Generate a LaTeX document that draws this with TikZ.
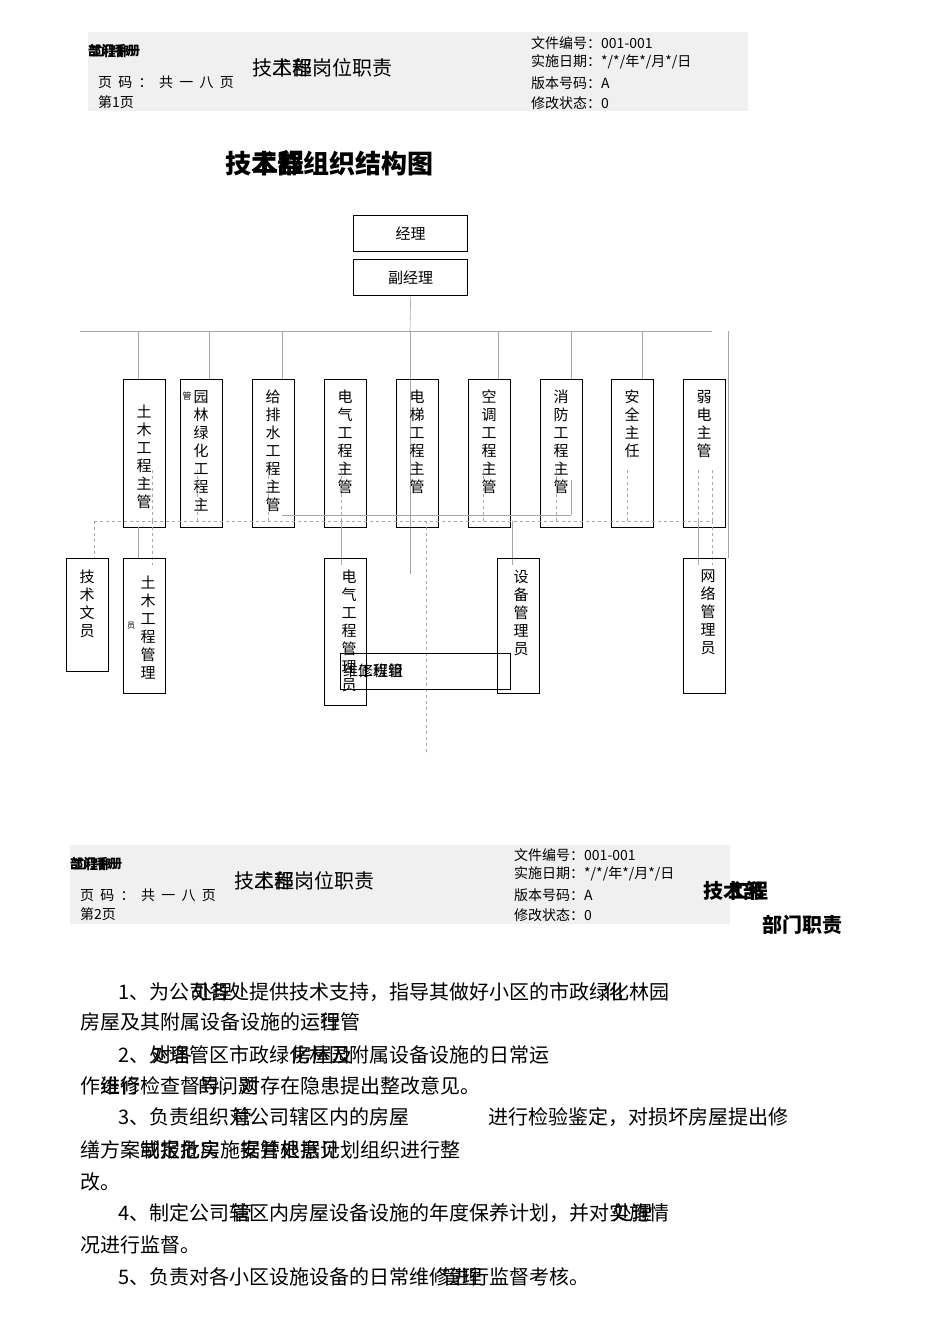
\documentclass[tikz,border=0pt]{standalone}
\usepackage{fontspec}
\setmainfont{Noto Sans CJK SC}
\begin{document}
\begin{tikzpicture}[x=1pt,y=-1pt,
  bx/.style={draw,line width=1.3pt,minimum width=42pt,anchor=north west,inner sep=0pt},
  ln/.style={draw=black!35,line width=0.6pt},
  dl/.style={draw=black!35,line width=0.5pt,dashed},
  vt/.style={anchor=north,inner sep=0pt,align=center,font=\fontsize{15pt}{18pt}\selectfont},
  ht/.style={anchor=west,inner sep=0pt},
  hd/.style={anchor=west,inner sep=0pt,font=\fontsize{14pt}{16pt}\selectfont},
  bt/.style={anchor=west,inner sep=0pt,font=\fontsize{20pt}{22pt}\selectfont}]
\useasboundingbox (0,0) rectangle (950,1344);
% header 1
\fill[black!6] (88,32) rectangle (748,111);
\node[hd,font=\fontsize{13pt}{14pt}\selectfont\bfseries] (h1a) at (88,51) {部门手册};
\node[hd,font=\fontsize{13pt}{14pt}\selectfont\bfseries] (h1b) at (90,51) {工程部};
\node[hd,font=\fontsize{20pt}{22pt}\selectfont] (h1c) at (252,68) {技术部岗位职责};
\node[hd,font=\fontsize{20pt}{22pt}\selectfont] (h1d) at (272,68) {工程};
\node[hd] (h1e) at (98,82) {页\ \ 码\ \ ：\ \ 共\ \ 一\ \ 八\ \ 页};
\node[hd] (h1f) at (98,102) {第1页};
\node[hd] (h1g) at (531,43) {文件编号：001-001};
\node[hd] (h1h) at (531,62) {实施日期：*/*/年*/月*/日};
\node[hd] (h1i) at (531,83) {版本号码：A};
\node[hd] (h1j) at (531,103) {修改状态：0};
% title
\node[ht,font=\fontsize{26pt}{28pt}\selectfont\bfseries] (t1) at (225,163) {技术部组织结构图};
\node[ht,font=\fontsize{26pt}{28pt}\selectfont\bfseries] (t2) at (252,163) {工程};
% top boxes
\node[bx,minimum width=114pt,minimum height=36pt] (jl) at (353,215) {};
\node at (jl.center) {\fontsize{15pt}{16pt}\selectfont 经理};
\node[bx,minimum width=114pt,minimum height=36pt] (fjl) at (353,259) {};
\node at (fjl.center) {\fontsize{15pt}{16pt}\selectfont 副经理};
\coordinate (bus) at (410,331);
\draw[ln] (fjl.south) -- (bus);
\draw[ln] (80,331) -- (712,331);
\draw[ln] (bus) -- (410,574);
% second level
\foreach \n/\x/\t/\ty in {
 a/123/土\\木\\工\\程\\主\\管/405,
 b/180/园\\林\\绿\\化\\工\\程\\主/390,
 c/252/给\\排\\水\\工\\程\\主\\管/390,
 d/324/电\\气\\工\\程\\主\\管/390,
 e/396/电\\梯\\工\\程\\主\\管/390,
 f/468/空\\调\\工\\程\\主\\管/390,
 g/540/消\\防\\工\\程\\主\\管/390,
 h/611/安\\全\\主\\任/390,
 i/683/弱\\电\\主\\管/390}{
  \node[bx,minimum height=148pt] (\n) at (\x,379) {};
  \node[vt] (\n t) at (\x+21,\ty) {\t};
}
\node[vt,font=\fontsize{9pt}{9pt}\selectfont] (bsm) at (187,392) {管};
\foreach \x in {138,209,282,498,571,642,728}{\draw[ln] (\x,331) -- (\x,379);}
\draw[ln] (282,515) -- (571,515);
\draw[ln] (571,515) -- (571,480);
\draw[dl] (94,521) -- (712,521);
\draw[dl] (94,521) -- (94,558);
\foreach \x in {152,197,268,341,483,556,627,698,712}{\draw[dl] (\x,470) -- (\x,521);}
\draw[dl] (426,521) -- (426,755);
\draw[ln] (138,527) -- (138,558);
\draw[dl] (152,521) -- (152,565);
\draw[ln] (341,521) -- (341,565);
\draw[ln] (512,521) -- (512,565);
\draw[ln] (698,521) -- (698,565);
\draw[dl] (712,521) -- (712,565);
\draw[ln] (728,379) -- (728,558);
% third level
\node[bx,minimum height=113pt] (j) at (66,558) {};
\node[vt] at (87,570) {技\\术\\文\\员};
\node[bx,minimum height=135pt] (k) at (123,558) {};
\node[vt] at (148,576) {土\\木\\工\\程\\管\\理};
\node[vt,font=\fontsize{8pt}{8pt}\selectfont] at (131,622) {员};
\node[bx,minimum height=147pt] (l) at (324,558) {};
\node[vt] at (349,570) {电\\气\\工\\程\\管\\理\\员};
\node[bx,minimum height=135pt] (m) at (497,558) {};
\node[vt] at (521,570) {设\\备\\管\\理\\员};
\node[bx,minimum height=135pt] (n) at (683,558) {};
\node[vt] at (708,570) {网\\络\\管\\理\\员};
\node[draw,line width=1.1pt,minimum width=170pt,minimum height=36pt,anchor=north west,inner sep=0pt] (wx) at (340,653) {};
\node[ht,font=\fontsize{15pt}{16pt}\selectfont] (wxt) at (343,671) {维修班组};
\node[ht,font=\fontsize{15pt}{16pt}\selectfont] (wxu) at (358,671) {工程管};
% header 2
\fill[black!6] (70,845) rectangle (730,924);
\node[hd,font=\fontsize{13pt}{14pt}\selectfont\bfseries] (h2a) at (70,864) {部门手册};
\node[hd,font=\fontsize{13pt}{14pt}\selectfont\bfseries] (h2b) at (72,864) {工程部};
\node[hd,font=\fontsize{20pt}{22pt}\selectfont] (h2c) at (234,881) {技术部岗位职责};
\node[hd,font=\fontsize{20pt}{22pt}\selectfont] (h2d) at (254,881) {工程};
\node[hd] (h2e) at (80,895) {页\ \ 码\ \ ：\ \ 共\ \ 一\ \ 八\ \ 页};
\node[hd] (h2f) at (80,914) {第2页};
\node[hd] (h2g) at (514,855) {文件编号：001-001};
\node[hd] (h2h) at (514,874) {实施日期：*/*/年*/月*/日};
\node[hd] (h2i) at (514,895) {版本号码：A};
\node[hd] (h2j) at (514,915) {修改状态：0};
\node[ht,font=\fontsize{20pt}{22pt}\selectfont\bfseries] (h2k) at (703,891) {技术部};
\node[ht,font=\fontsize{20pt}{22pt}\selectfont\bfseries] (h2l) at (728,891) {工程};
\node[ht,font=\fontsize{20pt}{22pt}\selectfont\bfseries] (h2m) at (762,925) {部门职责};
% body
\node[bt] (p1) at (118,992) {1、为公司各处提供技术支持，指导其做好小区的市政绿化林园};
\node[bt] (p1b) at (192,992) {处理};
\node[bt] (p1c) at (603,992) {化};
\node[bt] (p2) at (80,1022) {房屋及其附属设备设施的运行管};
\node[bt] (p2b) at (320,1022) {理};
\node[bt] (p3) at (118,1055) {2、处理管区市政绿化林园附属设备设施的日常运};
\node[bt] (p3b) at (152,1055) {对各};
\node[bt] (p3c) at (292,1055) {房屋及};
\node[bt] (p4) at (80,1086) {作进行检查督导，对存在隐患提出整改意见。};
\node[bt] (p4b) at (100,1086) {维修};
\node[bt] (p4c) at (198,1086) {的问题};
\node[bt] (p5) at (118,1117) {3、负责组织对公司辖区内的房屋};
\node[bt] (p5b) at (232,1117) {管};
\node[bt] (p5c) at (488,1117) {进行检验鉴定，对损坏房屋提出修};
\node[bt] (p6) at (80,1150) {缮方案或报批实施安并根据计划组织进行整};
\node[bt] (p6b) at (140,1150) {制定危房};
\node[bt] (p6c) at (240,1150) {据管处意见};
\node[bt] (p7) at (80,1182) {改。};
\node[bt] (p8) at (118,1213) {4、制定公司辖区内房屋设备设施的年度保养计划，并对实施情};
\node[bt] (p8b) at (232,1213) {管};
\node[bt] (p8c) at (612,1213) {处理};
\node[bt] (p9) at (80,1245) {况进行监督。};
\node[bt] (p10) at (118,1277) {5、负责对各小区设施设备的日常维修进行监督考核。};
\node[bt] (p10b) at (442,1277) {管理};
\end{tikzpicture}
\end{document}
